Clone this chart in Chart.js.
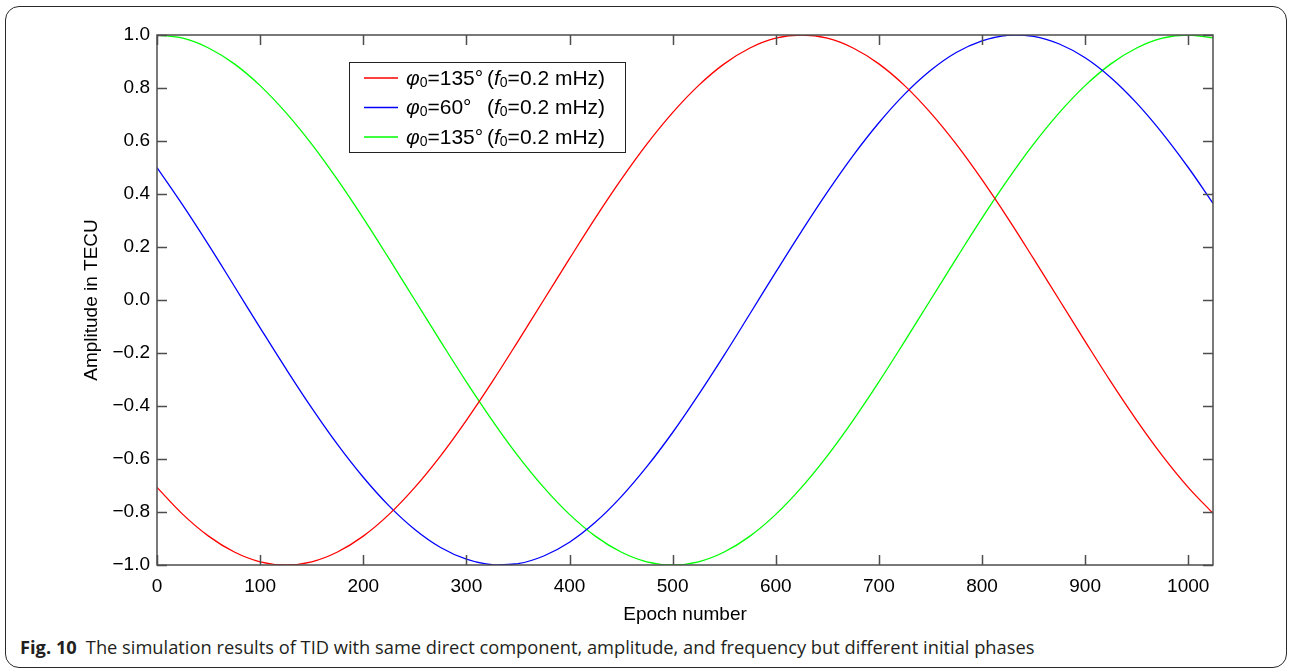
<!DOCTYPE html>
<html>
<head>
<meta charset="utf-8">
<script src="https://cdn.jsdelivr.net/npm/chart.js@4.4.1/dist/chart.umd.min.js"></script>
<style>
  body { margin: 0; background: #fff; }
  #frame { position: absolute; left: 5px; top: 6px; width: 1282px; height: 662px;
           border: 1.5px solid #2a2a2a; border-radius: 14px; box-sizing: border-box; }
  #wrap { position: absolute; left: 0; top: 0; width: 1290px; height: 630px; }
  #caption { position: absolute; left: 20px; top: 637px; font-family: "Open Sans"; font-size: 18.3px;
             line-height: 20px; color: #231f20; white-space: nowrap; }
  #caption b { font-weight: 700; margin-right: 9px; }
</style>
</head>
<body>
<div id="frame"></div>
<div id="wrap"><canvas id="tid" width="1290" height="630"></canvas></div>
<div id="caption"><b>Fig. 10</b>The simulation results of TID with same direct component, amplitude, and frequency but different initial phases</div>

<script>
// epoch number (x) and amplitude in TECU (y)
const epochs = [0, 25, 50, 75, 100, 125, 150, 175, 200, 225, 250, 275, 300, 325, 350, 375, 400, 425, 450, 475,
                500, 525, 550, 575, 600, 625, 650, 675, 700, 725, 750, 775, 800, 825, 850, 875, 900, 925, 950, 975,
                1000, 1024];
const redAmp = [-0.707, -0.809, -0.891, -0.951, -0.988, -1.000, -0.988, -0.951, -0.891, -0.809, -0.707, -0.588,
                -0.454, -0.309, -0.156, 0.000, 0.156, 0.309, 0.454, 0.588, 0.707, 0.809, 0.891, 0.951, 0.988,
                1.000, 0.988, 0.951, 0.891, 0.809, 0.707, 0.588, 0.454, 0.309, 0.156, 0.000, -0.156, -0.309,
                -0.454, -0.588, -0.707, -0.805];
const blueAmp = [0.500, 0.358, 0.208, 0.052, -0.105, -0.259, -0.407, -0.545, -0.669, -0.777, -0.866, -0.934,
                 -0.978, -0.999, -0.995, -0.966, -0.914, -0.839, -0.743, -0.629, -0.500, -0.358, -0.208, -0.052,
                 0.105, 0.259, 0.407, 0.545, 0.669, 0.777, 0.866, 0.934, 0.978, 0.999, 0.995, 0.966, 0.914,
                 0.839, 0.743, 0.629, 0.500, 0.365];
const greenAmp = [1.000, 0.988, 0.951, 0.891, 0.809, 0.707, 0.588, 0.454, 0.309, 0.156, 0.000, -0.156, -0.309,
                  -0.454, -0.588, -0.707, -0.809, -0.891, -0.951, -0.988, -1.000, -0.988, -0.951, -0.891,
                  -0.809, -0.707, -0.588, -0.454, -0.309, -0.156, 0.000, 0.156, 0.309, 0.454, 0.588, 0.707,
                  0.809, 0.891, 0.951, 0.988, 1.000, 0.989];

const phases = ['135°', '60°', '135°'];
const freqs = ['0.2 mHz', '0.2 mHz', '0.2 mHz'];
const colors = ['#ff0000', '#0000ff', '#00ff00'];
const series = [redAmp, blueAmp, greenAmp];

const FONT = 'Liberation Sans, Arial, sans-serif';

function pts(arr) {
    return arr.map(function (v, i) { return { x: epochs[i], y: v }; });
}

// draws a run of text pieces, each with its own font and vertical shift
function drawRich(ctx, parts, x, y) {
    parts.forEach(function (p) {
        ctx.font = p.font;
        ctx.fillText(p.text, x, y + (p.dy || 0));
        x += ctx.measureText(p.text).width;
    });
    return x;
}

const framePlugin = {
    id: 'frame',
    afterDatasetsDraw(chart) {
        const ctx = chart.ctx;
        const a = chart.chartArea;
        const xs = chart.scales.x, ys = chart.scales.y;
        ctx.save();
        ctx.strokeStyle = '#4d4d4d';
        ctx.lineWidth = 1.5;
        ctx.strokeRect(a.left, a.top, a.right - a.left, a.bottom - a.top);

        // inward tick marks on all four sides
        ctx.beginPath();
        xs.ticks.forEach(function (t) {
            const px = Math.round(xs.getPixelForValue(t.value)) + 0.5;
            ctx.moveTo(px, a.bottom); ctx.lineTo(px, a.bottom - 10);
            ctx.moveTo(px, a.top); ctx.lineTo(px, a.top + 10);
        });
        ys.ticks.forEach(function (t) {
            const py = Math.round(ys.getPixelForValue(t.value)) + 0.5;
            ctx.moveTo(a.left, py); ctx.lineTo(a.left + 10, py);
            ctx.moveTo(a.right, py); ctx.lineTo(a.right - 10, py);
        });
        ctx.stroke();

        // legend box
        const bx = 349, by = 62, bw = 276, bh = 90;
        ctx.fillStyle = '#fff';
        ctx.fillRect(bx, by, bw, bh);
        ctx.strokeStyle = '#222';
        ctx.lineWidth = 1;
        ctx.strokeRect(bx + 0.5, by + 0.5, bw, bh);

        ctx.textBaseline = 'middle';
        ctx.fillStyle = '#000';
        const reg = '21px ' + FONT, ital = 'italic 21px ' + FONT, sub = '14px ' + FONT;
        for (let i = 0; i < 3; i++) {
            const cy = by + 16 + i * 29.5;
            ctx.strokeStyle = colors[i];
            ctx.lineWidth = 1.3;
            ctx.beginPath();
            ctx.moveTo(364, cy); ctx.lineTo(398, cy);
            ctx.stroke();
            drawRich(ctx, [
                { text: 'φ', font: ital },
                { text: '0', font: sub, dy: 4 },
                { text: '=' + phases[i], font: reg }
            ], 406, cy + 1);
            drawRich(ctx, [
                { text: '(', font: reg },
                { text: 'f', font: ital },
                { text: '0', font: sub, dy: 4 },
                { text: '=' + freqs[i] + ')', font: reg }
            ], 487, cy + 1);
        }
        ctx.restore();
    }
};

new Chart(document.getElementById('tid'), {
    type: 'line',
    data: {
        datasets: series.map(function (s, i) {
            return {
                data: pts(s),
                borderColor: colors[i],
                borderWidth: 1.3,
                pointRadius: 0,
                tension: 0.4,
                fill: false
            };
        })
    },
    options: {
        responsive: false,
        animation: false,
        layout: { padding: { left: 0, top: 35, right: 77, bottom: 0 } },
        plugins: { legend: { display: false }, tooltip: { enabled: false } },
        scales: {
            x: {
                type: 'linear',
                min: 0,
                max: 1024,
                grid: { display: false, drawTicks: false },
                border: { display: false },
                ticks: {
                    stepSize: 100,
                    includeBounds: false,
                    padding: 10,
                    maxRotation: 0,
                    color: '#000',
                    font: { family: FONT, size: 19 },
                    callback: function (v) { return String(v); }
                },
                title: {
                    display: true,
                    text: 'Epoch number',
                    color: '#000',
                    font: { family: FONT, size: 19 },
                    padding: { top: 0, bottom: 4 }
                },
                afterFit(s) { s.height = 65; }
            },
            y: {
                min: -1,
                max: 1,
                grid: { display: false, drawTicks: false },
                border: { display: false },
                ticks: {
                    stepSize: 0.2,
                    padding: 7,
                    color: '#000',
                    font: { family: FONT, size: 19 },
                    callback: function (v) {
                        const s = (Math.abs(v) < 1e-9 ? 0 : v).toFixed(1);
                        return s.replace('-', '\u2212');
                    }
                },
                title: {
                    display: true,
                    text: 'Amplitude in TECU',
                    color: '#000',
                    font: { family: FONT, size: 19 },
                    padding: { top: 80, bottom: 0 }
                },
                afterFit(s) { s.width = 157; }
            }
        }
    },
    plugins: [framePlugin]
});
</script>
</body>
</html>
